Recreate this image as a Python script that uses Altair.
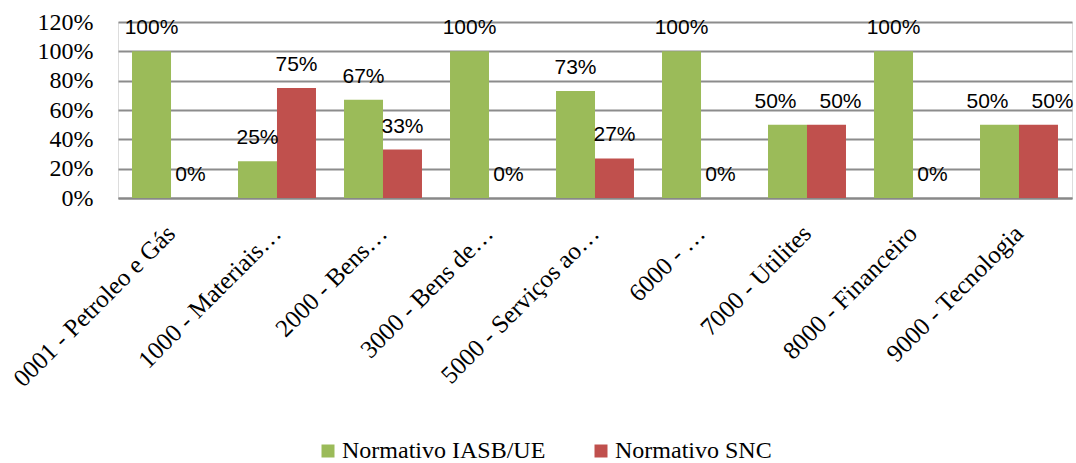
import altair as alt
import pandas as pd

categories = [
    "0001 - Petroleo e Gás",
    "1000 - Materiais…",
    "2000 - Bens…",
    "3000 - Bens de…",
    "5000 - Serviços ao…",
    "6000 - …",
    "7000 - Utilites",
    "8000 - Financeiro",
    "9000 - Tecnologia",
]
series_names = ["Normativo IASB/UE", "Normativo SNC"]
iasb_values = [1.00, 0.25, 0.67, 1.00, 0.73, 1.00, 0.50, 1.00, 0.50]
snc_values = [0.00, 0.75, 0.33, 0.00, 0.27, 0.00, 0.50, 0.00, 0.50]
colors = ["#9BBB59", "#C0504D"]
y_ticks = [0, 0.2, 0.4, 0.6, 0.8, 1.0, 1.2]

rows = []
for c, a, b in zip(categories, iasb_values, snc_values):
    rows.append({"cat": c, "series": series_names[0], "value": a})
    rows.append({"cat": c, "series": series_names[1], "value": b})
df = pd.DataFrame(rows)

serif = "Liberation Serif"
sans = "Liberation Sans"

x_enc = alt.X(
    "cat:N",
    sort=categories,
    title=None,
    scale=alt.Scale(paddingInner=0, paddingOuter=0),
    axis=alt.Axis(
        labelAngle=-45,
        labelAlign="right",
        labelBaseline="middle",
        labelFont=serif,
        labelFontSize=25,
        labelColor="#000000",
        labelPadding=31,
        ticks=False,
        domainColor="#888888",
        domainWidth=2,
        labelLimit=400,
        labelOverlap=False,
        grid=False,
    ),
)
xoff = alt.XOffset(
    "series:N",
    sort=series_names,
    scale=alt.Scale(paddingOuter=0.36, paddingInner=0),
)
y_enc = alt.Y(
    "value:Q",
    title=None,
    scale=alt.Scale(domain=[0, 1.2], nice=False),
    axis=alt.Axis(
        values=y_ticks,
        format=".0%",
        labelFont=serif,
        labelFontSize=24,
        labelColor="#000000",
        labelPadding=25,
        labelOverlap=False,
        ticks=False,
        domain=False,
        grid=True,
        gridColor="#8c8c8c",
        gridWidth=2,
        gridOpacity=1,
    ),
)

bars = alt.Chart(df).mark_bar(size=39).encode(
    x=x_enc,
    xOffset=xoff,
    y=y_enc,
    color=alt.Color(
        "series:N",
        sort=series_names,
        scale=alt.Scale(domain=series_names, range=colors),
        legend=alt.Legend(
            title=None,
            orient="none",
            direction="horizontal",
            legendX=198,
            legendY=417,
            symbolType="square",
            symbolSize=169,
            symbolStrokeWidth=0,
            symbolOpacity=1,
            labelFont=serif,
            labelFontSize=24,
            labelColor="#000000",
            labelOffset=2,
            columnPadding=43,
            labelLimit=400,
        ),
    ),
)

base_text = alt.Chart(df).transform_joinaggregate(
    vmin="min(value)", vmax="max(value)", groupby=["cat"]
).transform_calculate(tie="datum.vmin == datum.vmax")


def text_layer(filter_expr, dx):
    return base_text.transform_filter(filter_expr).mark_text(
        font=sans, fontSize=21, baseline="alphabetic", dy=-17, dx=dx, color="#000000"
    ).encode(
        x=x_enc,
        xOffset=xoff,
        y=y_enc,
        text=alt.Text("value:Q", format=".0%"),
    )


labels_plain = text_layer("!datum.tie", 0)
labels_tie_a = text_layer(f"datum.tie && datum.series == '{series_names[0]}'", -12)
labels_tie_b = text_layer(f"datum.tie && datum.series == '{series_names[1]}'", 14)

chart = (
    alt.layer(bars, labels_plain, labels_tie_a, labels_tie_b)
    .properties(
        width=954,
        height=176,
        autosize=alt.AutoSizeParams(type="none"),
        padding={"left": 118, "top": 22, "right": 4, "bottom": 265},
    )
    .configure_view(stroke=None)
    .configure(background="#ffffff")
)

chart.save("out.html", embed_options={"renderer": "svg", "actions": False})
